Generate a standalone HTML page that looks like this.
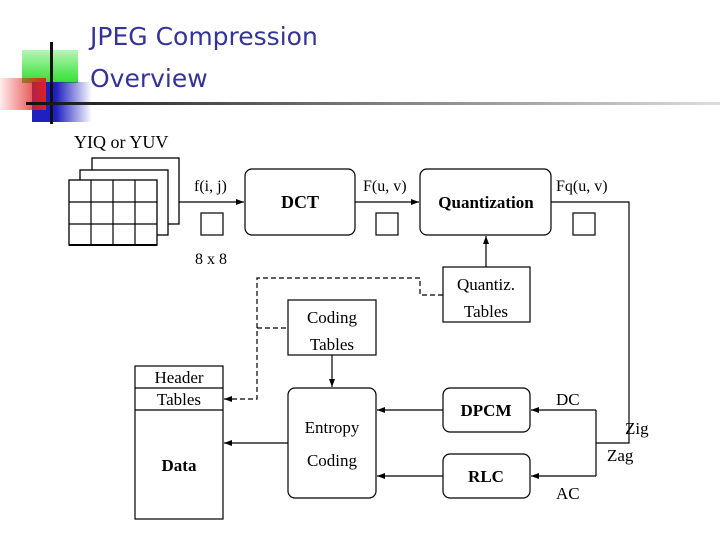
<!DOCTYPE html>
<html><head><meta charset="utf-8"><style>
body{margin:0;background:#fff;width:720px;height:540px;overflow:hidden;position:relative}
.t{position:absolute;left:90px;font-family:"DejaVu Sans","Liberation Sans",sans-serif;color:#333399;font-size:25px}
</style></head><body>
<div style="position:absolute;left:22px;top:50px;width:56px;height:33px;background:linear-gradient(#b8f5b8,#2fe02f)"></div>
<div style="position:absolute;left:32px;top:82px;width:60px;height:40px;background:linear-gradient(90deg,#2020c0 40%,rgba(32,32,200,0))"></div>
<div style="position:absolute;left:0;top:78px;width:46px;height:32px;background:linear-gradient(90deg,rgba(255,80,80,0.1),#e02020)"></div>
<div style="position:absolute;left:50px;top:42px;width:3px;height:82px;background:#111"></div>
<div style="position:absolute;left:26px;top:102px;width:694px;height:3px;background:linear-gradient(90deg,#111,#555 30%,#ddd)"></div>
<div class="t" style="top:22px">JPEG Compression</div>
<div class="t" style="top:64px">Overview</div>
<svg width="720" height="540" style="position:absolute;left:0;top:0" font-family="Liberation Serif,serif" font-size="17">
<defs><marker id="a" markerWidth="8" markerHeight="6" refX="8" refY="3" orient="auto" markerUnits="userSpaceOnUse"><path d="M0,0L8,3L0,6z" fill="#000"/></marker></defs>
<g fill="#fff" stroke="#000" stroke-width="1.3">
<rect x="92" y="158" width="87" height="66"/>
<rect x="80" y="170" width="88" height="65"/>
<rect x="69" y="180" width="88" height="65"/>
</g>
<g stroke="#000" stroke-width="1.2" fill="none">
<path d="M91 180V245M113 180V245M135 180V245M69 202H157M69 224H157"/>
<path d="M69 245H157" stroke-width="2"/>
<rect x="201" y="213" width="22" height="22"/><rect x="376" y="213" width="22" height="22"/><rect x="573" y="213" width="22" height="22"/>
<rect x="245" y="169" width="110" height="66" rx="7"/>
<rect x="420" y="169" width="131" height="66" rx="7"/>
<rect x="443" y="267" width="87" height="55"/>
<rect x="288" y="300" width="88" height="55"/>
<rect x="288" y="388" width="88" height="110" rx="7"/>
<rect x="443" y="388" width="87" height="44" rx="7"/>
<rect x="443" y="454" width="87" height="44" rx="7"/>
<rect x="135" y="366" width="88" height="153"/>
<path d="M135 388H223M135 410H223"/>
<path d="M179 202H244" marker-end="url(#a)"/>
<path d="M355 202H419" marker-end="url(#a)"/>
<path d="M551 202H629V443H596"/>
<path d="M596 410V476"/>
<path d="M596 410H531" marker-end="url(#a)"/>
<path d="M596 476H531" marker-end="url(#a)"/>
<path d="M486 267V236" marker-end="url(#a)"/>
<path d="M332 355V387" marker-end="url(#a)"/>
<path d="M443 410H377" marker-end="url(#a)"/>
<path d="M443 476H377" marker-end="url(#a)"/>
<path d="M288 443H224" marker-end="url(#a)"/>
<path d="M443 295H420V278H257V399H224" stroke-dasharray="5,3" marker-end="url(#a)"/>
<path d="M257 328H288" stroke-dasharray="5,3"/>
</g>
<g fill="#000">
<text x="74" y="148" font-size="18">YIQ or YUV</text>
<text x="194" y="191" font-size="16">f(i, j)</text>
<text x="195" y="264" font-size="16">8 x 8</text>
<text x="300" y="208" text-anchor="middle" font-size="18" font-weight="bold">DCT</text>
<text x="363" y="191" font-size="16">F(u, v)</text>
<text x="486" y="208" text-anchor="middle" font-size="17" font-weight="bold">Quantization</text>
<text x="556" y="191" font-size="16">Fq(u, v)</text>
<text x="486" y="290" text-anchor="middle">Quantiz.</text>
<text x="486" y="317" text-anchor="middle">Tables</text>
<text x="332" y="323" text-anchor="middle">Coding</text>
<text x="332" y="350" text-anchor="middle">Tables</text>
<text x="179" y="383" text-anchor="middle">Header</text>
<text x="179" y="405" text-anchor="middle">Tables</text>
<text x="179" y="471" text-anchor="middle" font-weight="bold">Data</text>
<text x="332" y="433" text-anchor="middle">Entropy</text>
<text x="332" y="466" text-anchor="middle">Coding</text>
<text x="486" y="416" text-anchor="middle" font-weight="bold">DPCM</text>
<text x="486" y="482" text-anchor="middle" font-weight="bold">RLC</text>
<text x="556" y="405">DC</text>
<text x="625" y="434">Zig</text>
<text x="607" y="461">Zag</text>
<text x="556" y="499">AC</text>
</g>
</svg>
</body></html>
